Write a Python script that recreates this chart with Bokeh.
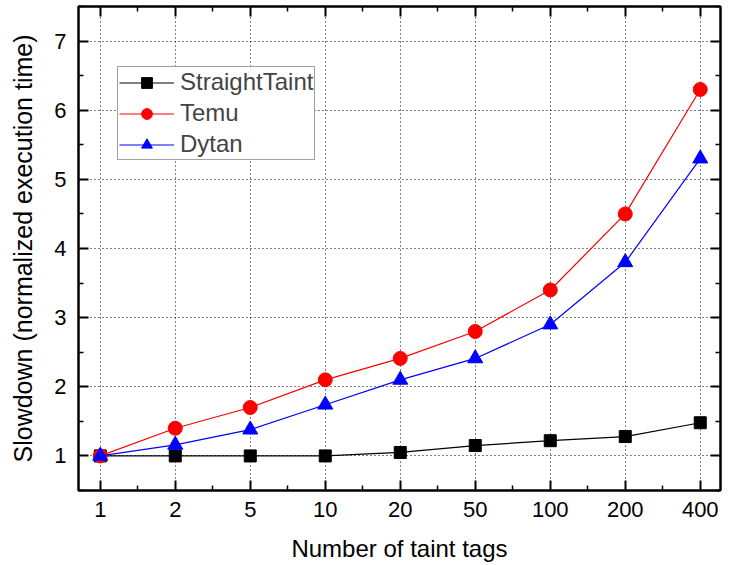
from bokeh.plotting import figure
from bokeh.models import FixedTicker, LinearAxis, Range1d, Legend, LegendItem, Grid
from bokeh.embed import file_html
from bokeh.resources import INLINE

categories = ["1", "2", "5", "10", "20", "50", "100", "200", "400"]
straight = [1.0, 1.0, 1.0, 1.0, 1.05, 1.15, 1.22, 1.28, 1.48]
temu = [1.0, 1.4, 1.7, 2.1, 2.41, 2.8, 3.4, 4.5, 6.3]
dytan = [1.0, 1.16, 1.38, 1.74, 2.1, 2.41, 2.9, 3.8, 5.3]
y_ticks = [1, 2, 3, 4, 5, 6, 7]

xs = list(range(len(categories)))
FONT = "Liberation Sans"

p = figure(width=730, height=565, output_backend="svg", toolbar_location=None,
           x_range=Range1d(-0.29, 8.27), y_range=Range1d(0.5, 7.5),
           min_border_left=78, min_border_right=10, min_border_top=6, min_border_bottom=75)
p.xaxis.visible = False
p.yaxis.visible = False
p.xgrid.visible = False
p.ygrid.visible = False
p.outline_line_color = "black"
p.outline_line_width = 2

xt = FixedTicker(ticks=xs, minor_ticks=[i + 0.5 for i in range(-1, len(categories))])
yt = FixedTicker(ticks=y_ticks, minor_ticks=[v + 0.5 for v in range(0, 8)])

def style(ax):
    ax.axis_line_width = 2
    ax.major_tick_in = 10
    ax.major_tick_out = 0
    ax.minor_tick_in = 5
    ax.minor_tick_out = 0
    ax.major_tick_line_width = 2
    ax.minor_tick_line_width = 1.5
    ax.major_label_text_font = FONT
    ax.major_label_text_font_size = "22px"
    ax.major_label_text_color = "black"
    ax.axis_label_text_font = FONT
    ax.axis_label_text_font_size = "24px"
    ax.axis_label_text_font_style = "normal"
    ax.axis_label_text_color = "black"

bx = LinearAxis(ticker=xt, axis_label="Number of taint tags")
bx.major_label_overrides = {i: c for i, c in enumerate(categories)}
style(bx)
bx.major_label_standoff = 11
bx.axis_label_standoff = 15
p.add_layout(bx, "below")

ly = LinearAxis(ticker=yt, axis_label="Slowdown (normalized execution time)")
style(ly)
ly.major_label_standoff = 12
ly.axis_label_standoff = 14
ly.axis_label_text_font_size = "25px"
p.add_layout(ly, "left")

tx = LinearAxis(ticker=xt)
style(tx)
tx.major_label_overrides = {i: "" for i in xs}
tx.major_label_standoff = 0
p.add_layout(tx, "above")

ry = LinearAxis(ticker=yt)
style(ry)
ry.major_label_overrides = {v: "" for v in y_ticks}
ry.major_label_standoff = 0
p.add_layout(ry, "right")

p.add_layout(Grid(dimension=0, ticker=xt, grid_line_color="black", grid_line_dash="1 3", grid_line_width=1))
p.add_layout(Grid(dimension=1, ticker=yt, grid_line_color="black", grid_line_dash="1 3", grid_line_width=1))

l1 = p.line(xs, straight, line_color="black", line_width=1.2)
m1 = p.scatter(xs, straight, marker="square", size=12, fill_color="black", line_color="black")
l2 = p.line(xs, temu, line_color="red", line_width=1.2)
m2 = p.scatter(xs, temu, marker="circle", size=14, fill_color="red", line_color="red")
l3 = p.line(xs, dytan, line_color="blue", line_width=1.2)
m3 = p.scatter(xs, dytan, marker="triangle", size=15, fill_color="blue", line_color="blue")

legend = Legend(items=[LegendItem(label="StraightTaint", renderers=[l1, m1]),
                       LegendItem(label="Temu", renderers=[l2, m2]),
                       LegendItem(label="Dytan", renderers=[l3, m3])],
                location=(39, 330))
legend.label_text_font = FONT
legend.label_text_font_size = "24px"
legend.border_line_color = "#444444"
legend.border_line_width = 1.5
legend.glyph_width = 55
legend.label_height = 27
legend.glyph_height = 27
legend.spacing = 3
legend.padding = 1
legend.margin = 0
legend.label_standoff = 6
legend.background_fill_alpha = 1
p.add_layout(legend, "center")

open("out.html", "w").write(file_html(p, INLINE))
